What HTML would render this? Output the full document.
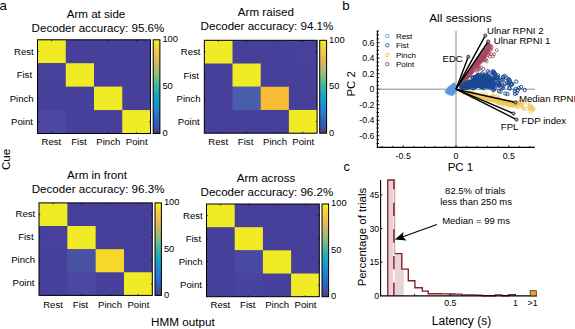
<!DOCTYPE html>
<html><head><meta charset="utf-8"><style>
html,body{margin:0;padding:0;background:#fff;}
svg{display:block;font-family:"Liberation Sans", sans-serif;}
</style></head><body>
<svg width="575" height="329" viewBox="0 0 575 329">
<rect width="575" height="329" fill="#fff"/>
<rect x="37.50" y="39.80" width="113.00" height="93.70" fill="#46409b"/>
<rect x="37.50" y="39.80" width="28.25" height="23.43" fill="#f1eb26"/>
<rect x="37.50" y="63.22" width="28.25" height="23.43" fill="#48419c"/>
<rect x="65.75" y="63.22" width="28.25" height="23.43" fill="#f1eb26"/>
<rect x="94.00" y="86.65" width="28.25" height="23.43" fill="#f1eb26"/>
<rect x="37.50" y="110.08" width="28.25" height="23.43" fill="#4c48a1"/>
<rect x="122.25" y="110.08" width="28.25" height="23.43" fill="#f1eb26"/>
<rect x="37.50" y="39.80" width="113.00" height="93.70" fill="none" stroke="#000" stroke-width="1"/>
<line x1="51.62" y1="39.80" x2="51.62" y2="41.10" stroke="#000" stroke-width="0.8" />
<line x1="51.62" y1="133.50" x2="51.62" y2="132.20" stroke="#000" stroke-width="0.8" />
<line x1="37.50" y1="51.51" x2="38.80" y2="51.51" stroke="#000" stroke-width="0.8" />
<line x1="150.50" y1="51.51" x2="149.20" y2="51.51" stroke="#000" stroke-width="0.8" />
<line x1="79.88" y1="39.80" x2="79.88" y2="41.10" stroke="#000" stroke-width="0.8" />
<line x1="79.88" y1="133.50" x2="79.88" y2="132.20" stroke="#000" stroke-width="0.8" />
<line x1="37.50" y1="74.94" x2="38.80" y2="74.94" stroke="#000" stroke-width="0.8" />
<line x1="150.50" y1="74.94" x2="149.20" y2="74.94" stroke="#000" stroke-width="0.8" />
<line x1="108.12" y1="39.80" x2="108.12" y2="41.10" stroke="#000" stroke-width="0.8" />
<line x1="108.12" y1="133.50" x2="108.12" y2="132.20" stroke="#000" stroke-width="0.8" />
<line x1="37.50" y1="98.36" x2="38.80" y2="98.36" stroke="#000" stroke-width="0.8" />
<line x1="150.50" y1="98.36" x2="149.20" y2="98.36" stroke="#000" stroke-width="0.8" />
<line x1="136.38" y1="39.80" x2="136.38" y2="41.10" stroke="#000" stroke-width="0.8" />
<line x1="136.38" y1="133.50" x2="136.38" y2="132.20" stroke="#000" stroke-width="0.8" />
<line x1="37.50" y1="121.79" x2="38.80" y2="121.79" stroke="#000" stroke-width="0.8" />
<line x1="150.50" y1="121.79" x2="149.20" y2="121.79" stroke="#000" stroke-width="0.8" />
<text x="33.7" y="55.0" font-size="9.6" text-anchor="end" >Rest</text>
<text x="32.1" y="78.4" font-size="9.6" text-anchor="end" >Fist</text>
<text x="33.7" y="101.9" font-size="9.6" text-anchor="end" >Pinch</text>
<text x="32.9" y="125.3" font-size="9.6" text-anchor="end" >Point</text>
<text x="51.4" y="144.9" font-size="9.6" text-anchor="middle" >Rest</text>
<text x="78.9" y="144.9" font-size="9.6" text-anchor="middle" >Fist</text>
<text x="108.3" y="144.9" font-size="9.6" text-anchor="middle" >Pinch</text>
<text x="136.7" y="144.9" font-size="9.6" text-anchor="middle" >Point</text>
<defs><linearGradient id="g37_39" x1="0" y1="0" x2="0" y2="1"><stop offset="0.0000" stop-color="#f5f523"/><stop offset="0.0476" stop-color="#f0e030"/><stop offset="0.0952" stop-color="#f4d03b"/><stop offset="0.1429" stop-color="#f8c247"/><stop offset="0.1905" stop-color="#ebb857"/><stop offset="0.2381" stop-color="#d6b962"/><stop offset="0.2857" stop-color="#bfba6b"/><stop offset="0.3333" stop-color="#a7bc74"/><stop offset="0.3810" stop-color="#8bbc7f"/><stop offset="0.4286" stop-color="#6cba8c"/><stop offset="0.4762" stop-color="#4cb69c"/><stop offset="0.5238" stop-color="#32b1ab"/><stop offset="0.5714" stop-color="#1eaab8"/><stop offset="0.6190" stop-color="#15a3c4"/><stop offset="0.6667" stop-color="#159acc"/><stop offset="0.7143" stop-color="#208ccd"/><stop offset="0.7619" stop-color="#287fcb"/><stop offset="0.8095" stop-color="#2775c9"/><stop offset="0.8571" stop-color="#2369c5"/><stop offset="0.9048" stop-color="#3b5bb4"/><stop offset="0.9524" stop-color="#484c92"/><stop offset="1.0000" stop-color="#443f73"/><stop offset="1" stop-color="#443f73"/></linearGradient></defs>
<rect x="153.2" y="39.8" width="6.70" height="93.70" fill="url(#g37_39)" stroke="#000" stroke-width="1"/>
<text x="162.4" y="42.2" font-size="9.4" text-anchor="start" >100</text>
<text x="162.4" y="89.1" font-size="9.4" text-anchor="start" >50</text>
<text x="162.4" y="135.9" font-size="9.4" text-anchor="start" >0</text>
<text x="96" y="17.9" font-size="11.6" text-anchor="middle" >Arm at side</text>
<text x="98.0" y="32.3" font-size="11.6" text-anchor="middle" >Decoder accuracy: 95.6%</text>
<rect x="204.30" y="40.30" width="112.80" height="92.90" fill="#46409b"/>
<rect x="204.30" y="40.30" width="28.20" height="23.22" fill="#f1eb26"/>
<rect x="288.90" y="40.30" width="28.20" height="23.22" fill="#48419c"/>
<rect x="232.50" y="63.52" width="28.20" height="23.22" fill="#f1eb26"/>
<rect x="232.50" y="86.75" width="28.20" height="23.22" fill="#4a5cac"/>
<rect x="260.70" y="86.75" width="28.20" height="23.22" fill="#f8bc34"/>
<rect x="288.90" y="109.97" width="28.20" height="23.22" fill="#f1eb26"/>
<rect x="204.30" y="40.30" width="112.80" height="92.90" fill="none" stroke="#000" stroke-width="1"/>
<line x1="218.40" y1="40.30" x2="218.40" y2="41.60" stroke="#000" stroke-width="0.8" />
<line x1="218.40" y1="133.20" x2="218.40" y2="131.90" stroke="#000" stroke-width="0.8" />
<line x1="204.30" y1="51.91" x2="205.60" y2="51.91" stroke="#000" stroke-width="0.8" />
<line x1="317.10" y1="51.91" x2="315.80" y2="51.91" stroke="#000" stroke-width="0.8" />
<line x1="246.60" y1="40.30" x2="246.60" y2="41.60" stroke="#000" stroke-width="0.8" />
<line x1="246.60" y1="133.20" x2="246.60" y2="131.90" stroke="#000" stroke-width="0.8" />
<line x1="204.30" y1="75.14" x2="205.60" y2="75.14" stroke="#000" stroke-width="0.8" />
<line x1="317.10" y1="75.14" x2="315.80" y2="75.14" stroke="#000" stroke-width="0.8" />
<line x1="274.80" y1="40.30" x2="274.80" y2="41.60" stroke="#000" stroke-width="0.8" />
<line x1="274.80" y1="133.20" x2="274.80" y2="131.90" stroke="#000" stroke-width="0.8" />
<line x1="204.30" y1="98.36" x2="205.60" y2="98.36" stroke="#000" stroke-width="0.8" />
<line x1="317.10" y1="98.36" x2="315.80" y2="98.36" stroke="#000" stroke-width="0.8" />
<line x1="303.00" y1="40.30" x2="303.00" y2="41.60" stroke="#000" stroke-width="0.8" />
<line x1="303.00" y1="133.20" x2="303.00" y2="131.90" stroke="#000" stroke-width="0.8" />
<line x1="204.30" y1="121.59" x2="205.60" y2="121.59" stroke="#000" stroke-width="0.8" />
<line x1="317.10" y1="121.59" x2="315.80" y2="121.59" stroke="#000" stroke-width="0.8" />
<text x="200.5" y="55.4" font-size="9.6" text-anchor="end" >Rest</text>
<text x="198.9" y="78.6" font-size="9.6" text-anchor="end" >Fist</text>
<text x="200.5" y="101.9" font-size="9.6" text-anchor="end" >Pinch</text>
<text x="199.7" y="125.1" font-size="9.6" text-anchor="end" >Point</text>
<text x="218.2" y="144.6" font-size="9.6" text-anchor="middle" >Rest</text>
<text x="245.6" y="144.6" font-size="9.6" text-anchor="middle" >Fist</text>
<text x="275.0" y="144.6" font-size="9.6" text-anchor="middle" >Pinch</text>
<text x="303.3" y="144.6" font-size="9.6" text-anchor="middle" >Point</text>
<defs><linearGradient id="g204_40" x1="0" y1="0" x2="0" y2="1"><stop offset="0.0000" stop-color="#f5f523"/><stop offset="0.0476" stop-color="#f0e030"/><stop offset="0.0952" stop-color="#f4d03b"/><stop offset="0.1429" stop-color="#f8c247"/><stop offset="0.1905" stop-color="#ebb857"/><stop offset="0.2381" stop-color="#d6b962"/><stop offset="0.2857" stop-color="#bfba6b"/><stop offset="0.3333" stop-color="#a7bc74"/><stop offset="0.3810" stop-color="#8bbc7f"/><stop offset="0.4286" stop-color="#6cba8c"/><stop offset="0.4762" stop-color="#4cb69c"/><stop offset="0.5238" stop-color="#32b1ab"/><stop offset="0.5714" stop-color="#1eaab8"/><stop offset="0.6190" stop-color="#15a3c4"/><stop offset="0.6667" stop-color="#159acc"/><stop offset="0.7143" stop-color="#208ccd"/><stop offset="0.7619" stop-color="#287fcb"/><stop offset="0.8095" stop-color="#2775c9"/><stop offset="0.8571" stop-color="#2369c5"/><stop offset="0.9048" stop-color="#3b5bb4"/><stop offset="0.9524" stop-color="#484c92"/><stop offset="1.0000" stop-color="#443f73"/><stop offset="1" stop-color="#443f73"/></linearGradient></defs>
<rect x="319.7" y="40.3" width="6.90" height="92.90" fill="url(#g204_40)" stroke="#000" stroke-width="1"/>
<text x="329.1" y="42.7" font-size="9.4" text-anchor="start" >100</text>
<text x="329.1" y="89.2" font-size="9.4" text-anchor="start" >50</text>
<text x="329.1" y="135.6" font-size="9.4" text-anchor="start" >0</text>
<text x="265.9" y="15.8" font-size="11.6" text-anchor="middle" >Arm raised</text>
<text x="267.0" y="30.1" font-size="11.6" text-anchor="middle" >Decoder accuracy: 94.1%</text>
<rect x="39.00" y="202.90" width="113.30" height="92.50" fill="#46409b"/>
<rect x="39.00" y="202.90" width="28.33" height="23.12" fill="#f1eb26"/>
<rect x="39.00" y="226.03" width="28.33" height="23.12" fill="#48419c"/>
<rect x="67.33" y="226.03" width="28.33" height="23.12" fill="#f1eb26"/>
<rect x="67.33" y="249.15" width="28.33" height="23.12" fill="#4a52a6"/>
<rect x="95.65" y="249.15" width="28.33" height="23.12" fill="#f5d828"/>
<rect x="67.33" y="272.27" width="28.33" height="23.12" fill="#4a48a0"/>
<rect x="123.98" y="272.27" width="28.33" height="23.12" fill="#f1eb26"/>
<rect x="39.00" y="202.90" width="113.30" height="92.50" fill="none" stroke="#000" stroke-width="1"/>
<line x1="53.16" y1="202.90" x2="53.16" y2="204.20" stroke="#000" stroke-width="0.8" />
<line x1="53.16" y1="295.40" x2="53.16" y2="294.10" stroke="#000" stroke-width="0.8" />
<line x1="39.00" y1="214.46" x2="40.30" y2="214.46" stroke="#000" stroke-width="0.8" />
<line x1="152.30" y1="214.46" x2="151.00" y2="214.46" stroke="#000" stroke-width="0.8" />
<line x1="81.49" y1="202.90" x2="81.49" y2="204.20" stroke="#000" stroke-width="0.8" />
<line x1="81.49" y1="295.40" x2="81.49" y2="294.10" stroke="#000" stroke-width="0.8" />
<line x1="39.00" y1="237.59" x2="40.30" y2="237.59" stroke="#000" stroke-width="0.8" />
<line x1="152.30" y1="237.59" x2="151.00" y2="237.59" stroke="#000" stroke-width="0.8" />
<line x1="109.81" y1="202.90" x2="109.81" y2="204.20" stroke="#000" stroke-width="0.8" />
<line x1="109.81" y1="295.40" x2="109.81" y2="294.10" stroke="#000" stroke-width="0.8" />
<line x1="39.00" y1="260.71" x2="40.30" y2="260.71" stroke="#000" stroke-width="0.8" />
<line x1="152.30" y1="260.71" x2="151.00" y2="260.71" stroke="#000" stroke-width="0.8" />
<line x1="138.14" y1="202.90" x2="138.14" y2="204.20" stroke="#000" stroke-width="0.8" />
<line x1="138.14" y1="295.40" x2="138.14" y2="294.10" stroke="#000" stroke-width="0.8" />
<line x1="39.00" y1="283.84" x2="40.30" y2="283.84" stroke="#000" stroke-width="0.8" />
<line x1="152.30" y1="283.84" x2="151.00" y2="283.84" stroke="#000" stroke-width="0.8" />
<text x="35.2" y="216.6" font-size="9.6" text-anchor="end" >Rest</text>
<text x="33.6" y="239.7" font-size="9.6" text-anchor="end" >Fist</text>
<text x="35.2" y="262.8" font-size="9.6" text-anchor="end" >Pinch</text>
<text x="34.4" y="285.9" font-size="9.6" text-anchor="end" >Point</text>
<text x="53.0" y="307.8" font-size="9.6" text-anchor="middle" >Rest</text>
<text x="80.5" y="307.8" font-size="9.6" text-anchor="middle" >Fist</text>
<text x="110.0" y="307.8" font-size="9.6" text-anchor="middle" >Pinch</text>
<text x="138.4" y="307.8" font-size="9.6" text-anchor="middle" >Point</text>
<defs><linearGradient id="g39_202" x1="0" y1="0" x2="0" y2="1"><stop offset="0.0000" stop-color="#f5f523"/><stop offset="0.0476" stop-color="#f0e030"/><stop offset="0.0952" stop-color="#f4d03b"/><stop offset="0.1429" stop-color="#f8c247"/><stop offset="0.1905" stop-color="#ebb857"/><stop offset="0.2381" stop-color="#d6b962"/><stop offset="0.2857" stop-color="#bfba6b"/><stop offset="0.3333" stop-color="#a7bc74"/><stop offset="0.3810" stop-color="#8bbc7f"/><stop offset="0.4286" stop-color="#6cba8c"/><stop offset="0.4762" stop-color="#4cb69c"/><stop offset="0.5238" stop-color="#32b1ab"/><stop offset="0.5714" stop-color="#1eaab8"/><stop offset="0.6190" stop-color="#15a3c4"/><stop offset="0.6667" stop-color="#159acc"/><stop offset="0.7143" stop-color="#208ccd"/><stop offset="0.7619" stop-color="#287fcb"/><stop offset="0.8095" stop-color="#2775c9"/><stop offset="0.8571" stop-color="#2369c5"/><stop offset="0.9048" stop-color="#3b5bb4"/><stop offset="0.9524" stop-color="#484c92"/><stop offset="1.0000" stop-color="#443f73"/><stop offset="1" stop-color="#443f73"/></linearGradient></defs>
<rect x="155" y="202.9" width="6.40" height="92.50" fill="url(#g39_202)" stroke="#000" stroke-width="1"/>
<text x="163.9" y="205.3" font-size="9.4" text-anchor="start" >100</text>
<text x="163.9" y="251.5" font-size="9.4" text-anchor="start" >50</text>
<text x="163.9" y="297.8" font-size="9.4" text-anchor="start" >0</text>
<text x="97.0" y="179.3" font-size="11.6" text-anchor="middle" >Arm in front</text>
<text x="98.1" y="193.4" font-size="11.6" text-anchor="middle" >Decoder accuracy: 96.3%</text>
<rect x="206.50" y="204.00" width="112.80" height="92.70" fill="#46409b"/>
<rect x="206.50" y="204.00" width="28.20" height="23.17" fill="#f1eb26"/>
<rect x="234.70" y="227.18" width="28.20" height="23.17" fill="#f1eb26"/>
<rect x="234.70" y="250.35" width="28.20" height="23.17" fill="#4a4aa2"/>
<rect x="262.90" y="250.35" width="28.20" height="23.17" fill="#f1eb26"/>
<rect x="234.70" y="273.52" width="28.20" height="23.17" fill="#48439e"/>
<rect x="291.10" y="273.52" width="28.20" height="23.17" fill="#f1eb26"/>
<rect x="206.50" y="204.00" width="112.80" height="92.70" fill="none" stroke="#000" stroke-width="1"/>
<line x1="220.60" y1="204.00" x2="220.60" y2="205.30" stroke="#000" stroke-width="0.8" />
<line x1="220.60" y1="296.70" x2="220.60" y2="295.40" stroke="#000" stroke-width="0.8" />
<line x1="206.50" y1="215.59" x2="207.80" y2="215.59" stroke="#000" stroke-width="0.8" />
<line x1="319.30" y1="215.59" x2="318.00" y2="215.59" stroke="#000" stroke-width="0.8" />
<line x1="248.80" y1="204.00" x2="248.80" y2="205.30" stroke="#000" stroke-width="0.8" />
<line x1="248.80" y1="296.70" x2="248.80" y2="295.40" stroke="#000" stroke-width="0.8" />
<line x1="206.50" y1="238.76" x2="207.80" y2="238.76" stroke="#000" stroke-width="0.8" />
<line x1="319.30" y1="238.76" x2="318.00" y2="238.76" stroke="#000" stroke-width="0.8" />
<line x1="277.00" y1="204.00" x2="277.00" y2="205.30" stroke="#000" stroke-width="0.8" />
<line x1="277.00" y1="296.70" x2="277.00" y2="295.40" stroke="#000" stroke-width="0.8" />
<line x1="206.50" y1="261.94" x2="207.80" y2="261.94" stroke="#000" stroke-width="0.8" />
<line x1="319.30" y1="261.94" x2="318.00" y2="261.94" stroke="#000" stroke-width="0.8" />
<line x1="305.20" y1="204.00" x2="305.20" y2="205.30" stroke="#000" stroke-width="0.8" />
<line x1="305.20" y1="296.70" x2="305.20" y2="295.40" stroke="#000" stroke-width="0.8" />
<line x1="206.50" y1="285.11" x2="207.80" y2="285.11" stroke="#000" stroke-width="0.8" />
<line x1="319.30" y1="285.11" x2="318.00" y2="285.11" stroke="#000" stroke-width="0.8" />
<text x="202.7" y="218.5" font-size="9.6" text-anchor="end" >Rest</text>
<text x="201.1" y="241.7" font-size="9.6" text-anchor="end" >Fist</text>
<text x="202.7" y="264.8" font-size="9.6" text-anchor="end" >Pinch</text>
<text x="201.9" y="288.0" font-size="9.6" text-anchor="end" >Point</text>
<text x="220.4" y="308.1" font-size="9.6" text-anchor="middle" >Rest</text>
<text x="247.8" y="308.1" font-size="9.6" text-anchor="middle" >Fist</text>
<text x="277.2" y="308.1" font-size="9.6" text-anchor="middle" >Pinch</text>
<text x="305.5" y="308.1" font-size="9.6" text-anchor="middle" >Point</text>
<defs><linearGradient id="g206_204" x1="0" y1="0" x2="0" y2="1"><stop offset="0.0000" stop-color="#f5f523"/><stop offset="0.0476" stop-color="#f0e030"/><stop offset="0.0952" stop-color="#f4d03b"/><stop offset="0.1429" stop-color="#f8c247"/><stop offset="0.1905" stop-color="#ebb857"/><stop offset="0.2381" stop-color="#d6b962"/><stop offset="0.2857" stop-color="#bfba6b"/><stop offset="0.3333" stop-color="#a7bc74"/><stop offset="0.3810" stop-color="#8bbc7f"/><stop offset="0.4286" stop-color="#6cba8c"/><stop offset="0.4762" stop-color="#4cb69c"/><stop offset="0.5238" stop-color="#32b1ab"/><stop offset="0.5714" stop-color="#1eaab8"/><stop offset="0.6190" stop-color="#15a3c4"/><stop offset="0.6667" stop-color="#159acc"/><stop offset="0.7143" stop-color="#208ccd"/><stop offset="0.7619" stop-color="#287fcb"/><stop offset="0.8095" stop-color="#2775c9"/><stop offset="0.8571" stop-color="#2369c5"/><stop offset="0.9048" stop-color="#3b5bb4"/><stop offset="0.9524" stop-color="#484c92"/><stop offset="1.0000" stop-color="#443f73"/><stop offset="1" stop-color="#443f73"/></linearGradient></defs>
<rect x="322" y="204.0" width="6.60" height="92.70" fill="url(#g206_204)" stroke="#000" stroke-width="1"/>
<text x="331.1" y="206.4" font-size="9.4" text-anchor="start" >100</text>
<text x="331.1" y="252.8" font-size="9.4" text-anchor="start" >50</text>
<text x="331.1" y="299.1" font-size="9.4" text-anchor="start" >0</text>
<text x="266" y="181.8" font-size="11.6" text-anchor="middle" >Arm across</text>
<text x="266.9" y="195.8" font-size="11.6" text-anchor="middle" >Decoder accuracy: 96.2%</text>
<text x="-0.5" y="9.5" font-size="13.2" text-anchor="start" >a</text>
<text x="342.3" y="9.5" font-size="13.2" text-anchor="start" >b</text>
<text x="343.5" y="170.8" font-size="12.5" text-anchor="start" >c</text>
<text x="0" y="0" font-size="11.6" text-anchor="middle" transform="translate(9.9,159.4) rotate(-90)">Cue</text>
<text x="182.8" y="326.1" font-size="11.7" text-anchor="middle" >HMM output</text>
<line x1="456.00" y1="31.00" x2="456.00" y2="147.40" stroke="#8a8a8a" stroke-width="1" />
<line x1="377.40" y1="89.20" x2="534.80" y2="89.20" stroke="#8a8a8a" stroke-width="1" />
<path d="M453.7,82.8 L456.8,85 L457.2,90.5 L455,93.5 L452.6,95.6 L448,94.6 L444.8,92 L447.5,88 Z" fill="#5c9ad8" stroke="#5c9ad8" stroke-width="0.8" stroke-linejoin="round"/>
<circle cx="450.9" cy="87.9" r="1.3" fill="none" stroke="#5c9ad8" stroke-width="0.8"/>
<circle cx="452.9" cy="87.4" r="1.3" fill="none" stroke="#5c9ad8" stroke-width="0.8"/>
<circle cx="452.2" cy="89.2" r="1.3" fill="none" stroke="#5c9ad8" stroke-width="0.8"/>
<circle cx="449.3" cy="90.0" r="1.3" fill="none" stroke="#5c9ad8" stroke-width="0.8"/>
<circle cx="449.2" cy="89.6" r="1.3" fill="none" stroke="#5c9ad8" stroke-width="0.8"/>
<circle cx="449.4" cy="87.5" r="1.3" fill="none" stroke="#5c9ad8" stroke-width="0.8"/>
<circle cx="451.5" cy="92.0" r="1.3" fill="none" stroke="#5c9ad8" stroke-width="0.8"/>
<circle cx="449.7" cy="88.3" r="1.3" fill="none" stroke="#5c9ad8" stroke-width="0.8"/>
<circle cx="452.8" cy="92.7" r="1.3" fill="none" stroke="#5c9ad8" stroke-width="0.8"/>
<circle cx="452.5" cy="89.4" r="1.3" fill="none" stroke="#5c9ad8" stroke-width="0.8"/>
<circle cx="454.9" cy="87.3" r="1.3" fill="none" stroke="#5c9ad8" stroke-width="0.8"/>
<circle cx="454.2" cy="88.7" r="1.3" fill="none" stroke="#5c9ad8" stroke-width="0.8"/>
<path d="M458,90.3 L515.5,101.8 L520,104.5 L514,107.8 L495,103.2 L470,95.8 L458,91.6 Z" fill="#f1cb55"/>
<circle cx="474.0" cy="94.6" r="1.5" fill="none" stroke="#f0c75a" stroke-width="0.8"/>
<circle cx="509.3" cy="102.6" r="1.5" fill="none" stroke="#f0c75a" stroke-width="0.8"/>
<circle cx="476.5" cy="96.1" r="1.5" fill="none" stroke="#f0c75a" stroke-width="0.8"/>
<circle cx="488.0" cy="98.0" r="1.5" fill="none" stroke="#f0c75a" stroke-width="0.8"/>
<circle cx="497.1" cy="99.2" r="1.5" fill="none" stroke="#f0c75a" stroke-width="0.8"/>
<circle cx="478.2" cy="94.8" r="1.5" fill="none" stroke="#f0c75a" stroke-width="0.8"/>
<circle cx="503.3" cy="101.8" r="1.5" fill="none" stroke="#f0c75a" stroke-width="0.8"/>
<circle cx="498.9" cy="99.7" r="1.5" fill="none" stroke="#f0c75a" stroke-width="0.8"/>
<circle cx="492.3" cy="98.7" r="1.5" fill="none" stroke="#f0c75a" stroke-width="0.8"/>
<circle cx="504.1" cy="104.7" r="1.5" fill="none" stroke="#f0c75a" stroke-width="0.8"/>
<circle cx="480.6" cy="97.0" r="1.5" fill="none" stroke="#f0c75a" stroke-width="0.8"/>
<circle cx="511.8" cy="103.1" r="1.5" fill="none" stroke="#f0c75a" stroke-width="0.8"/>
<circle cx="505.5" cy="102.0" r="1.5" fill="none" stroke="#f0c75a" stroke-width="0.8"/>
<circle cx="472.0" cy="96.8" r="1.5" fill="none" stroke="#f0c75a" stroke-width="0.8"/>
<circle cx="490.5" cy="97.1" r="1.5" fill="none" stroke="#f0c75a" stroke-width="0.8"/>
<circle cx="494.1" cy="99.2" r="1.5" fill="none" stroke="#f0c75a" stroke-width="0.8"/>
<circle cx="465.0" cy="92.8" r="1.5" fill="none" stroke="#f0c75a" stroke-width="0.8"/>
<circle cx="498.3" cy="102.5" r="1.5" fill="none" stroke="#f0c75a" stroke-width="0.8"/>
<circle cx="511.8" cy="103.3" r="1.5" fill="none" stroke="#f0c75a" stroke-width="0.8"/>
<circle cx="499.3" cy="102.6" r="1.5" fill="none" stroke="#f0c75a" stroke-width="0.8"/>
<circle cx="498.6" cy="103.5" r="1.5" fill="none" stroke="#f0c75a" stroke-width="0.8"/>
<circle cx="514.7" cy="103.7" r="1.5" fill="none" stroke="#f0c75a" stroke-width="0.8"/>
<circle cx="493.4" cy="98.1" r="1.5" fill="none" stroke="#f0c75a" stroke-width="0.8"/>
<circle cx="504.3" cy="100.7" r="1.5" fill="none" stroke="#f0c75a" stroke-width="0.8"/>
<circle cx="501.8" cy="104.5" r="1.5" fill="none" stroke="#f0c75a" stroke-width="0.8"/>
<circle cx="483.1" cy="95.7" r="1.5" fill="none" stroke="#f0c75a" stroke-width="0.8"/>
<circle cx="488.8" cy="96.9" r="1.5" fill="none" stroke="#f0c75a" stroke-width="0.8"/>
<circle cx="492.8" cy="97.9" r="1.5" fill="none" stroke="#f0c75a" stroke-width="0.8"/>
<circle cx="475.6" cy="94.5" r="1.5" fill="none" stroke="#f0c75a" stroke-width="0.8"/>
<circle cx="507.2" cy="101.1" r="1.5" fill="none" stroke="#f0c75a" stroke-width="0.8"/>
<circle cx="472.9" cy="93.6" r="1.5" fill="none" stroke="#f0c75a" stroke-width="0.8"/>
<circle cx="511.7" cy="104.6" r="1.5" fill="none" stroke="#f0c75a" stroke-width="0.8"/>
<circle cx="468.9" cy="94.1" r="1.5" fill="none" stroke="#f0c75a" stroke-width="0.8"/>
<circle cx="512.2" cy="102.7" r="1.5" fill="none" stroke="#f0c75a" stroke-width="0.8"/>
<circle cx="509.4" cy="102.5" r="1.5" fill="none" stroke="#f0c75a" stroke-width="0.8"/>
<circle cx="490.4" cy="98.4" r="1.5" fill="none" stroke="#f0c75a" stroke-width="0.8"/>
<circle cx="487.3" cy="100.3" r="1.5" fill="none" stroke="#f0c75a" stroke-width="0.8"/>
<circle cx="474.4" cy="96.2" r="1.5" fill="none" stroke="#f0c75a" stroke-width="0.8"/>
<circle cx="476.2" cy="94.3" r="1.5" fill="none" stroke="#f0c75a" stroke-width="0.8"/>
<circle cx="493.9" cy="99.5" r="1.5" fill="none" stroke="#f0c75a" stroke-width="0.8"/>
<circle cx="499.0" cy="98.8" r="1.5" fill="none" stroke="#f0c75a" stroke-width="0.8"/>
<circle cx="490.5" cy="97.3" r="1.5" fill="none" stroke="#f0c75a" stroke-width="0.8"/>
<circle cx="487.9" cy="101.3" r="1.5" fill="none" stroke="#f0c75a" stroke-width="0.8"/>
<circle cx="503.8" cy="102.6" r="1.5" fill="none" stroke="#f0c75a" stroke-width="0.8"/>
<circle cx="495.5" cy="100.8" r="1.5" fill="none" stroke="#f0c75a" stroke-width="0.8"/>
<circle cx="466.5" cy="93.3" r="1.5" fill="none" stroke="#f0c75a" stroke-width="0.8"/>
<circle cx="512.9" cy="102.8" r="1.5" fill="none" stroke="#f0c75a" stroke-width="0.8"/>
<circle cx="508.5" cy="106.9" r="1.5" fill="none" stroke="#f0c75a" stroke-width="0.8"/>
<circle cx="489.1" cy="97.6" r="1.5" fill="none" stroke="#f0c75a" stroke-width="0.8"/>
<circle cx="501.2" cy="99.9" r="1.5" fill="none" stroke="#f0c75a" stroke-width="0.8"/>
<circle cx="467.3" cy="93.1" r="1.5" fill="none" stroke="#f0c75a" stroke-width="0.8"/>
<circle cx="475.2" cy="94.4" r="1.5" fill="none" stroke="#f0c75a" stroke-width="0.8"/>
<circle cx="486.3" cy="96.2" r="1.5" fill="none" stroke="#f0c75a" stroke-width="0.8"/>
<circle cx="474.5" cy="93.9" r="1.5" fill="none" stroke="#f0c75a" stroke-width="0.8"/>
<circle cx="470.7" cy="93.3" r="1.5" fill="none" stroke="#f0c75a" stroke-width="0.8"/>
<circle cx="511.8" cy="101.8" r="1.5" fill="none" stroke="#f0c75a" stroke-width="0.8"/>
<circle cx="500.2" cy="100.2" r="1.5" fill="none" stroke="#f0c75a" stroke-width="0.8"/>
<circle cx="486.7" cy="97.5" r="1.5" fill="none" stroke="#f0c75a" stroke-width="0.8"/>
<circle cx="487.6" cy="99.4" r="1.5" fill="none" stroke="#f0c75a" stroke-width="0.8"/>
<circle cx="516.7" cy="107.1" r="1.5" fill="none" stroke="#f0c75a" stroke-width="0.8"/>
<circle cx="493.0" cy="98.5" r="1.5" fill="none" stroke="#f0c75a" stroke-width="0.8"/>
<circle cx="470.7" cy="93.2" r="1.5" fill="none" stroke="#f0c75a" stroke-width="0.8"/>
<circle cx="486.4" cy="96.6" r="1.5" fill="none" stroke="#f0c75a" stroke-width="0.8"/>
<circle cx="475.2" cy="96.7" r="1.5" fill="none" stroke="#f0c75a" stroke-width="0.8"/>
<circle cx="463.1" cy="92.6" r="1.5" fill="none" stroke="#f0c75a" stroke-width="0.8"/>
<circle cx="474.1" cy="94.3" r="1.5" fill="none" stroke="#f0c75a" stroke-width="0.8"/>
<circle cx="496.8" cy="101.4" r="1.5" fill="none" stroke="#f0c75a" stroke-width="0.8"/>
<circle cx="516.1" cy="102.9" r="1.5" fill="none" stroke="#f0c75a" stroke-width="0.8"/>
<circle cx="511.3" cy="102.0" r="1.5" fill="none" stroke="#f0c75a" stroke-width="0.8"/>
<circle cx="487.7" cy="98.0" r="1.5" fill="none" stroke="#f0c75a" stroke-width="0.8"/>
<circle cx="468.3" cy="91.1" r="1.5" fill="none" stroke="#f0c75a" stroke-width="0.8"/>
<circle cx="482.2" cy="93.8" r="1.5" fill="none" stroke="#f0c75a" stroke-width="0.8"/>
<circle cx="474.5" cy="93.9" r="1.5" fill="none" stroke="#f0c75a" stroke-width="0.8"/>
<circle cx="492.8" cy="95.3" r="1.5" fill="none" stroke="#f0c75a" stroke-width="0.8"/>
<circle cx="494.4" cy="96.2" r="1.5" fill="none" stroke="#f0c75a" stroke-width="0.8"/>
<circle cx="493.1" cy="96.1" r="1.5" fill="none" stroke="#f0c75a" stroke-width="0.8"/>
<circle cx="470.6" cy="92.3" r="1.5" fill="none" stroke="#f0c75a" stroke-width="0.8"/>
<circle cx="475.5" cy="94.7" r="1.5" fill="none" stroke="#f0c75a" stroke-width="0.8"/>
<circle cx="463.1" cy="91.5" r="1.5" fill="none" stroke="#f0c75a" stroke-width="0.8"/>
<circle cx="471.8" cy="92.0" r="1.5" fill="none" stroke="#f0c75a" stroke-width="0.8"/>
<circle cx="498.3" cy="98.0" r="1.5" fill="none" stroke="#f0c75a" stroke-width="0.8"/>
<circle cx="497.6" cy="96.3" r="1.5" fill="none" stroke="#f0c75a" stroke-width="0.8"/>
<circle cx="498.3" cy="98.3" r="1.5" fill="none" stroke="#f0c75a" stroke-width="0.8"/>
<circle cx="470.4" cy="93.1" r="1.5" fill="none" stroke="#f0c75a" stroke-width="0.8"/>
<circle cx="469.5" cy="93.0" r="1.5" fill="none" stroke="#f0c75a" stroke-width="0.8"/>
<circle cx="485.7" cy="94.1" r="1.5" fill="none" stroke="#f0c75a" stroke-width="0.8"/>
<circle cx="531.1" cy="106.3" r="1.6" fill="none" stroke="#f0c75a" stroke-width="0.8"/>
<circle cx="530.4" cy="108.9" r="1.6" fill="none" stroke="#f0c75a" stroke-width="0.8"/>
<circle cx="517.5" cy="101.5" r="1.6" fill="none" stroke="#f0c75a" stroke-width="0.8"/>
<circle cx="530.1" cy="105.1" r="1.6" fill="none" stroke="#f0c75a" stroke-width="0.8"/>
<circle cx="529.5" cy="107.1" r="1.6" fill="none" stroke="#f0c75a" stroke-width="0.8"/>
<circle cx="530.2" cy="108.7" r="1.6" fill="none" stroke="#f0c75a" stroke-width="0.8"/>
<circle cx="522.0" cy="106.8" r="1.6" fill="none" stroke="#f0c75a" stroke-width="0.8"/>
<circle cx="523.1" cy="101.2" r="1.6" fill="none" stroke="#f0c75a" stroke-width="0.8"/>
<circle cx="523.2" cy="108.5" r="1.6" fill="none" stroke="#f0c75a" stroke-width="0.8"/>
<circle cx="519.1" cy="103.2" r="1.6" fill="none" stroke="#f0c75a" stroke-width="0.8"/>
<circle cx="518.3" cy="106.2" r="1.6" fill="none" stroke="#f0c75a" stroke-width="0.8"/>
<circle cx="530.5" cy="111.8" r="1.6" fill="none" stroke="#f0c75a" stroke-width="0.8"/>
<circle cx="518.6" cy="106.4" r="1.6" fill="none" stroke="#f0c75a" stroke-width="0.8"/>
<circle cx="527.8" cy="103.1" r="1.6" fill="none" stroke="#f0c75a" stroke-width="0.8"/>
<circle cx="522.3" cy="104.5" r="1.6" fill="none" stroke="#f0c75a" stroke-width="0.8"/>
<circle cx="516.3" cy="102.8" r="1.6" fill="none" stroke="#f0c75a" stroke-width="0.8"/>
<circle cx="533.5" cy="108.5" r="1.6" fill="none" stroke="#f0c75a" stroke-width="0.8"/>
<circle cx="532.8" cy="107.8" r="1.6" fill="none" stroke="#f0c75a" stroke-width="0.8"/>
<circle cx="523.8" cy="108.4" r="1.6" fill="none" stroke="#f0c75a" stroke-width="0.8"/>
<circle cx="519.8" cy="102.0" r="1.6" fill="none" stroke="#f0c75a" stroke-width="0.8"/>
<circle cx="520.5" cy="104.4" r="1.6" fill="none" stroke="#f0c75a" stroke-width="0.8"/>
<circle cx="526.6" cy="108.4" r="1.6" fill="none" stroke="#f0c75a" stroke-width="0.8"/>
<circle cx="520.7" cy="104.0" r="1.6" fill="none" stroke="#f0c75a" stroke-width="0.8"/>
<circle cx="532.4" cy="109.8" r="1.6" fill="none" stroke="#f0c75a" stroke-width="0.8"/>
<circle cx="522.4" cy="103.2" r="1.6" fill="none" stroke="#f0c75a" stroke-width="0.8"/>
<circle cx="532.3" cy="109.9" r="1.6" fill="none" stroke="#f0c75a" stroke-width="0.8"/>
<path d="M460,82 L484.5,50 L488,47.5 L490,50.5 L481.5,63 L470.5,77 L464,82.5 Z" fill="#bd6a80"/>
<circle cx="475.9" cy="65.3" r="1.5" fill="none" stroke="#a44560" stroke-width="0.8"/>
<circle cx="478.3" cy="60.6" r="1.5" fill="none" stroke="#a44560" stroke-width="0.8"/>
<circle cx="478.9" cy="61.6" r="1.5" fill="none" stroke="#a44560" stroke-width="0.8"/>
<circle cx="467.3" cy="74.1" r="1.5" fill="none" stroke="#a44560" stroke-width="0.8"/>
<circle cx="460.2" cy="84.1" r="1.5" fill="none" stroke="#a44560" stroke-width="0.8"/>
<circle cx="476.7" cy="62.8" r="1.5" fill="none" stroke="#a44560" stroke-width="0.8"/>
<circle cx="483.9" cy="54.2" r="1.5" fill="none" stroke="#a44560" stroke-width="0.8"/>
<circle cx="477.4" cy="60.8" r="1.5" fill="none" stroke="#a44560" stroke-width="0.8"/>
<circle cx="478.0" cy="59.2" r="1.5" fill="none" stroke="#a44560" stroke-width="0.8"/>
<circle cx="478.8" cy="59.5" r="1.5" fill="none" stroke="#a44560" stroke-width="0.8"/>
<circle cx="469.6" cy="71.4" r="1.5" fill="none" stroke="#a44560" stroke-width="0.8"/>
<circle cx="479.6" cy="62.9" r="1.5" fill="none" stroke="#a44560" stroke-width="0.8"/>
<circle cx="478.3" cy="59.0" r="1.5" fill="none" stroke="#a44560" stroke-width="0.8"/>
<circle cx="478.5" cy="65.8" r="1.5" fill="none" stroke="#a44560" stroke-width="0.8"/>
<circle cx="481.6" cy="58.6" r="1.5" fill="none" stroke="#a44560" stroke-width="0.8"/>
<circle cx="481.4" cy="54.2" r="1.5" fill="none" stroke="#a44560" stroke-width="0.8"/>
<circle cx="477.0" cy="64.2" r="1.5" fill="none" stroke="#a44560" stroke-width="0.8"/>
<circle cx="487.9" cy="46.1" r="1.5" fill="none" stroke="#a44560" stroke-width="0.8"/>
<circle cx="485.1" cy="56.4" r="1.5" fill="none" stroke="#a44560" stroke-width="0.8"/>
<circle cx="471.8" cy="72.2" r="1.5" fill="none" stroke="#a44560" stroke-width="0.8"/>
<circle cx="481.3" cy="61.3" r="1.5" fill="none" stroke="#a44560" stroke-width="0.8"/>
<circle cx="466.4" cy="76.7" r="1.5" fill="none" stroke="#a44560" stroke-width="0.8"/>
<circle cx="465.5" cy="77.2" r="1.5" fill="none" stroke="#a44560" stroke-width="0.8"/>
<circle cx="469.2" cy="71.6" r="1.5" fill="none" stroke="#a44560" stroke-width="0.8"/>
<circle cx="464.1" cy="80.0" r="1.5" fill="none" stroke="#a44560" stroke-width="0.8"/>
<circle cx="489.9" cy="49.7" r="1.5" fill="none" stroke="#a44560" stroke-width="0.8"/>
<circle cx="466.6" cy="75.6" r="1.5" fill="none" stroke="#a44560" stroke-width="0.8"/>
<circle cx="467.4" cy="77.0" r="1.5" fill="none" stroke="#a44560" stroke-width="0.8"/>
<circle cx="487.6" cy="48.8" r="1.5" fill="none" stroke="#a44560" stroke-width="0.8"/>
<circle cx="488.0" cy="45.5" r="1.5" fill="none" stroke="#a44560" stroke-width="0.8"/>
<circle cx="478.4" cy="68.4" r="1.5" fill="none" stroke="#a44560" stroke-width="0.8"/>
<circle cx="485.3" cy="49.7" r="1.5" fill="none" stroke="#a44560" stroke-width="0.8"/>
<circle cx="467.7" cy="75.9" r="1.5" fill="none" stroke="#a44560" stroke-width="0.8"/>
<circle cx="472.7" cy="67.9" r="1.5" fill="none" stroke="#a44560" stroke-width="0.8"/>
<circle cx="468.4" cy="74.0" r="1.5" fill="none" stroke="#a44560" stroke-width="0.8"/>
<circle cx="462.1" cy="83.6" r="1.5" fill="none" stroke="#a44560" stroke-width="0.8"/>
<circle cx="478.1" cy="59.3" r="1.5" fill="none" stroke="#a44560" stroke-width="0.8"/>
<circle cx="471.8" cy="67.7" r="1.5" fill="none" stroke="#a44560" stroke-width="0.8"/>
<circle cx="480.3" cy="57.1" r="1.5" fill="none" stroke="#a44560" stroke-width="0.8"/>
<circle cx="488.4" cy="44.3" r="1.5" fill="none" stroke="#a44560" stroke-width="0.8"/>
<circle cx="484.7" cy="51.5" r="1.5" fill="none" stroke="#a44560" stroke-width="0.8"/>
<circle cx="469.9" cy="70.5" r="1.5" fill="none" stroke="#a44560" stroke-width="0.8"/>
<circle cx="462.0" cy="81.5" r="1.5" fill="none" stroke="#a44560" stroke-width="0.8"/>
<circle cx="466.2" cy="77.1" r="1.5" fill="none" stroke="#a44560" stroke-width="0.8"/>
<circle cx="476.8" cy="65.9" r="1.5" fill="none" stroke="#a44560" stroke-width="0.8"/>
<circle cx="470.9" cy="71.6" r="1.5" fill="none" stroke="#a44560" stroke-width="0.8"/>
<circle cx="467.3" cy="76.5" r="1.5" fill="none" stroke="#a44560" stroke-width="0.8"/>
<circle cx="482.9" cy="54.8" r="1.5" fill="none" stroke="#a44560" stroke-width="0.8"/>
<circle cx="465.3" cy="79.6" r="1.5" fill="none" stroke="#a44560" stroke-width="0.8"/>
<circle cx="475.2" cy="64.5" r="1.5" fill="none" stroke="#a44560" stroke-width="0.8"/>
<circle cx="464.5" cy="80.4" r="1.5" fill="none" stroke="#a44560" stroke-width="0.8"/>
<circle cx="485.2" cy="51.2" r="1.5" fill="none" stroke="#a44560" stroke-width="0.8"/>
<circle cx="463.9" cy="79.0" r="1.5" fill="none" stroke="#a44560" stroke-width="0.8"/>
<circle cx="486.2" cy="48.8" r="1.5" fill="none" stroke="#a44560" stroke-width="0.8"/>
<circle cx="476.3" cy="63.6" r="1.5" fill="none" stroke="#a44560" stroke-width="0.8"/>
<circle cx="489.6" cy="48.0" r="1.5" fill="none" stroke="#a44560" stroke-width="0.8"/>
<circle cx="471.0" cy="71.1" r="1.5" fill="none" stroke="#a44560" stroke-width="0.8"/>
<circle cx="470.1" cy="72.4" r="1.5" fill="none" stroke="#a44560" stroke-width="0.8"/>
<circle cx="464.8" cy="77.7" r="1.5" fill="none" stroke="#a44560" stroke-width="0.8"/>
<circle cx="468.1" cy="73.4" r="1.5" fill="none" stroke="#a44560" stroke-width="0.8"/>
<circle cx="472.0" cy="69.0" r="1.5" fill="none" stroke="#a44560" stroke-width="0.8"/>
<circle cx="472.7" cy="70.9" r="1.5" fill="none" stroke="#a44560" stroke-width="0.8"/>
<circle cx="477.1" cy="61.6" r="1.5" fill="none" stroke="#a44560" stroke-width="0.8"/>
<circle cx="461.6" cy="83.3" r="1.5" fill="none" stroke="#a44560" stroke-width="0.8"/>
<circle cx="471.4" cy="72.5" r="1.5" fill="none" stroke="#a44560" stroke-width="0.8"/>
<circle cx="478.0" cy="59.4" r="1.5" fill="none" stroke="#a44560" stroke-width="0.8"/>
<circle cx="470.2" cy="75.7" r="1.5" fill="none" stroke="#a44560" stroke-width="0.8"/>
<circle cx="464.9" cy="78.0" r="1.5" fill="none" stroke="#a44560" stroke-width="0.8"/>
<circle cx="486.8" cy="51.5" r="1.5" fill="none" stroke="#a44560" stroke-width="0.8"/>
<circle cx="485.9" cy="50.0" r="1.5" fill="none" stroke="#a44560" stroke-width="0.8"/>
<circle cx="475.9" cy="66.9" r="1.5" fill="none" stroke="#a44560" stroke-width="0.8"/>
<circle cx="488.5" cy="44.4" r="1.5" fill="none" stroke="#a44560" stroke-width="0.8"/>
<circle cx="473.2" cy="68.0" r="1.5" fill="none" stroke="#a44560" stroke-width="0.8"/>
<circle cx="482.6" cy="58.0" r="1.5" fill="none" stroke="#a44560" stroke-width="0.8"/>
<circle cx="474.1" cy="64.9" r="1.5" fill="none" stroke="#a44560" stroke-width="0.8"/>
<circle cx="465.7" cy="76.7" r="1.5" fill="none" stroke="#a44560" stroke-width="0.8"/>
<circle cx="463.2" cy="79.6" r="1.5" fill="none" stroke="#a44560" stroke-width="0.8"/>
<circle cx="467.4" cy="75.6" r="1.5" fill="none" stroke="#a44560" stroke-width="0.8"/>
<circle cx="464.8" cy="79.6" r="1.5" fill="none" stroke="#a44560" stroke-width="0.8"/>
<circle cx="484.2" cy="57.3" r="1.5" fill="none" stroke="#a44560" stroke-width="0.8"/>
<circle cx="470.3" cy="69.7" r="1.5" fill="none" stroke="#a44560" stroke-width="0.8"/>
<circle cx="476.7" cy="63.6" r="1.5" fill="none" stroke="#a44560" stroke-width="0.8"/>
<circle cx="467.2" cy="75.8" r="1.5" fill="none" stroke="#a44560" stroke-width="0.8"/>
<circle cx="488.5" cy="45.4" r="1.5" fill="none" stroke="#a44560" stroke-width="0.8"/>
<circle cx="489.9" cy="45.9" r="1.5" fill="none" stroke="#a44560" stroke-width="0.8"/>
<circle cx="488.5" cy="45.2" r="1.5" fill="none" stroke="#a44560" stroke-width="0.8"/>
<circle cx="471.1" cy="68.6" r="1.5" fill="none" stroke="#a44560" stroke-width="0.8"/>
<circle cx="473.2" cy="65.7" r="1.5" fill="none" stroke="#a44560" stroke-width="0.8"/>
<circle cx="476.9" cy="62.9" r="1.5" fill="none" stroke="#a44560" stroke-width="0.8"/>
<circle cx="476.5" cy="60.9" r="1.5" fill="none" stroke="#a44560" stroke-width="0.8"/>
<circle cx="460.2" cy="83.9" r="1.5" fill="none" stroke="#a44560" stroke-width="0.8"/>
<circle cx="474.3" cy="65.4" r="1.5" fill="none" stroke="#a44560" stroke-width="0.8"/>
<circle cx="462.7" cy="81.8" r="1.5" fill="none" stroke="#a44560" stroke-width="0.8"/>
<circle cx="468.9" cy="71.9" r="1.5" fill="none" stroke="#a44560" stroke-width="0.8"/>
<circle cx="481.7" cy="60.1" r="1.5" fill="none" stroke="#a44560" stroke-width="0.8"/>
<circle cx="481.1" cy="55.8" r="1.5" fill="none" stroke="#a44560" stroke-width="0.8"/>
<circle cx="483.4" cy="54.4" r="1.5" fill="none" stroke="#a44560" stroke-width="0.8"/>
<circle cx="472.6" cy="68.6" r="1.5" fill="none" stroke="#a44560" stroke-width="0.8"/>
<circle cx="490.7" cy="45.9" r="1.5" fill="none" stroke="#a44560" stroke-width="0.8"/>
<circle cx="482.7" cy="57.7" r="1.5" fill="none" stroke="#a44560" stroke-width="0.8"/>
<circle cx="463.0" cy="81.8" r="1.5" fill="none" stroke="#a44560" stroke-width="0.8"/>
<circle cx="483.3" cy="59.0" r="1.5" fill="none" stroke="#a44560" stroke-width="0.8"/>
<circle cx="482.8" cy="53.0" r="1.5" fill="none" stroke="#a44560" stroke-width="0.8"/>
<circle cx="477.9" cy="60.8" r="1.5" fill="none" stroke="#a44560" stroke-width="0.8"/>
<circle cx="478.1" cy="62.1" r="1.5" fill="none" stroke="#a44560" stroke-width="0.8"/>
<circle cx="488.2" cy="52.0" r="1.5" fill="none" stroke="#a44560" stroke-width="0.8"/>
<circle cx="480.8" cy="59.6" r="1.5" fill="none" stroke="#a44560" stroke-width="0.8"/>
<circle cx="483.3" cy="55.5" r="1.5" fill="none" stroke="#a44560" stroke-width="0.8"/>
<circle cx="469.3" cy="72.4" r="1.5" fill="none" stroke="#a44560" stroke-width="0.8"/>
<circle cx="472.7" cy="66.6" r="1.5" fill="none" stroke="#a44560" stroke-width="0.8"/>
<circle cx="465.2" cy="78.3" r="1.5" fill="none" stroke="#a44560" stroke-width="0.8"/>
<circle cx="481.9" cy="57.9" r="1.5" fill="none" stroke="#a44560" stroke-width="0.8"/>
<circle cx="480.6" cy="57.1" r="1.5" fill="none" stroke="#a44560" stroke-width="0.8"/>
<circle cx="460.8" cy="84.6" r="1.5" fill="none" stroke="#a44560" stroke-width="0.8"/>
<circle cx="484.0" cy="50.5" r="1.5" fill="none" stroke="#a44560" stroke-width="0.8"/>
<circle cx="479.5" cy="61.3" r="1.5" fill="none" stroke="#a44560" stroke-width="0.8"/>
<circle cx="483.5" cy="57.4" r="1.5" fill="none" stroke="#a44560" stroke-width="0.8"/>
<circle cx="470.2" cy="71.6" r="1.5" fill="none" stroke="#a44560" stroke-width="0.8"/>
<circle cx="463.5" cy="79.5" r="1.5" fill="none" stroke="#a44560" stroke-width="0.8"/>
<circle cx="469.9" cy="74.4" r="1.5" fill="none" stroke="#a44560" stroke-width="0.8"/>
<circle cx="492.8" cy="56.2" r="1.5" fill="none" stroke="#a44560" stroke-width="0.8"/>
<circle cx="485.1" cy="59.8" r="1.5" fill="none" stroke="#a44560" stroke-width="0.8"/>
<circle cx="486.6" cy="61.4" r="1.5" fill="none" stroke="#a44560" stroke-width="0.8"/>
<circle cx="491.2" cy="54.1" r="1.5" fill="none" stroke="#a44560" stroke-width="0.8"/>
<circle cx="486.0" cy="54.9" r="1.5" fill="none" stroke="#a44560" stroke-width="0.8"/>
<circle cx="478.4" cy="67.8" r="1.5" fill="none" stroke="#a44560" stroke-width="0.8"/>
<circle cx="489.0" cy="53.4" r="1.5" fill="none" stroke="#a44560" stroke-width="0.8"/>
<circle cx="484.3" cy="56.5" r="1.5" fill="none" stroke="#a44560" stroke-width="0.8"/>
<circle cx="476.9" cy="69.9" r="1.5" fill="none" stroke="#a44560" stroke-width="0.8"/>
<circle cx="490.0" cy="56.7" r="1.5" fill="none" stroke="#a44560" stroke-width="0.8"/>
<circle cx="487.8" cy="55.0" r="1.5" fill="none" stroke="#a44560" stroke-width="0.8"/>
<circle cx="486.0" cy="59.6" r="1.5" fill="none" stroke="#a44560" stroke-width="0.8"/>
<circle cx="483.1" cy="59.4" r="1.5" fill="none" stroke="#a44560" stroke-width="0.8"/>
<circle cx="491.0" cy="49.3" r="1.5" fill="none" stroke="#a44560" stroke-width="0.8"/>
<circle cx="496.7" cy="50.2" r="1.5" fill="none" stroke="#a44560" stroke-width="0.8"/>
<circle cx="477.3" cy="71.8" r="1.5" fill="none" stroke="#a44560" stroke-width="0.8"/>
<circle cx="494.1" cy="54.2" r="1.5" fill="none" stroke="#a44560" stroke-width="0.8"/>
<circle cx="483.7" cy="60.4" r="1.5" fill="none" stroke="#a44560" stroke-width="0.8"/>
<circle cx="483.4" cy="69.0" r="1.5" fill="none" stroke="#a44560" stroke-width="0.8"/>
<circle cx="481.3" cy="67.5" r="1.5" fill="none" stroke="#a44560" stroke-width="0.8"/>
<circle cx="479.8" cy="69.0" r="1.5" fill="none" stroke="#a44560" stroke-width="0.8"/>
<circle cx="491.7" cy="47.6" r="1.5" fill="none" stroke="#a44560" stroke-width="0.8"/>
<path d="M464,86.5 L468,82.5 L475,78.5 L483,75.5 L490,75 L495,78.5 L497,85 L493,88.5 L480,88.3 L468,88 Z" fill="#2a56a0"/>
<circle cx="473.6" cy="77.3" r="1.7" fill="none" stroke="#1b4792" stroke-width="0.9"/>
<circle cx="472.7" cy="77.8" r="1.7" fill="none" stroke="#1b4792" stroke-width="0.9"/>
<circle cx="486.6" cy="76.0" r="1.7" fill="none" stroke="#1b4792" stroke-width="0.9"/>
<circle cx="473.8" cy="80.4" r="1.7" fill="none" stroke="#1b4792" stroke-width="0.9"/>
<circle cx="488.5" cy="83.1" r="1.7" fill="none" stroke="#1b4792" stroke-width="0.9"/>
<circle cx="491.7" cy="79.4" r="1.7" fill="none" stroke="#1b4792" stroke-width="0.9"/>
<circle cx="470.6" cy="84.6" r="1.7" fill="none" stroke="#1b4792" stroke-width="0.9"/>
<circle cx="472.1" cy="86.0" r="1.7" fill="none" stroke="#1b4792" stroke-width="0.9"/>
<circle cx="502.8" cy="88.0" r="1.7" fill="none" stroke="#1b4792" stroke-width="0.9"/>
<circle cx="509.2" cy="79.7" r="1.7" fill="none" stroke="#1b4792" stroke-width="0.9"/>
<circle cx="467.4" cy="85.8" r="1.7" fill="none" stroke="#1b4792" stroke-width="0.9"/>
<circle cx="466.5" cy="87.5" r="1.7" fill="none" stroke="#1b4792" stroke-width="0.9"/>
<circle cx="509.7" cy="88.5" r="1.7" fill="none" stroke="#1b4792" stroke-width="0.9"/>
<circle cx="485.2" cy="81.6" r="1.7" fill="none" stroke="#1b4792" stroke-width="0.9"/>
<circle cx="500.3" cy="80.2" r="1.7" fill="none" stroke="#1b4792" stroke-width="0.9"/>
<circle cx="496.8" cy="77.8" r="1.7" fill="none" stroke="#1b4792" stroke-width="0.9"/>
<circle cx="469.7" cy="83.1" r="1.7" fill="none" stroke="#1b4792" stroke-width="0.9"/>
<circle cx="462.3" cy="87.7" r="1.7" fill="none" stroke="#1b4792" stroke-width="0.9"/>
<circle cx="498.8" cy="80.6" r="1.7" fill="none" stroke="#1b4792" stroke-width="0.9"/>
<circle cx="465.6" cy="84.0" r="1.7" fill="none" stroke="#1b4792" stroke-width="0.9"/>
<circle cx="505.0" cy="83.6" r="1.7" fill="none" stroke="#1b4792" stroke-width="0.9"/>
<circle cx="461.9" cy="86.8" r="1.7" fill="none" stroke="#1b4792" stroke-width="0.9"/>
<circle cx="489.9" cy="84.8" r="1.7" fill="none" stroke="#1b4792" stroke-width="0.9"/>
<circle cx="478.3" cy="76.2" r="1.7" fill="none" stroke="#1b4792" stroke-width="0.9"/>
<circle cx="516.2" cy="81.6" r="1.7" fill="none" stroke="#1b4792" stroke-width="0.9"/>
<circle cx="470.9" cy="85.2" r="1.7" fill="none" stroke="#1b4792" stroke-width="0.9"/>
<circle cx="486.2" cy="83.1" r="1.7" fill="none" stroke="#1b4792" stroke-width="0.9"/>
<circle cx="475.3" cy="78.6" r="1.7" fill="none" stroke="#1b4792" stroke-width="0.9"/>
<circle cx="469.2" cy="81.8" r="1.7" fill="none" stroke="#1b4792" stroke-width="0.9"/>
<circle cx="485.0" cy="75.3" r="1.7" fill="none" stroke="#1b4792" stroke-width="0.9"/>
<circle cx="461.8" cy="86.1" r="1.7" fill="none" stroke="#1b4792" stroke-width="0.9"/>
<circle cx="476.6" cy="79.0" r="1.7" fill="none" stroke="#1b4792" stroke-width="0.9"/>
<circle cx="482.3" cy="74.8" r="1.7" fill="none" stroke="#1b4792" stroke-width="0.9"/>
<circle cx="473.0" cy="77.7" r="1.7" fill="none" stroke="#1b4792" stroke-width="0.9"/>
<circle cx="482.3" cy="73.3" r="1.7" fill="none" stroke="#1b4792" stroke-width="0.9"/>
<circle cx="468.3" cy="81.8" r="1.7" fill="none" stroke="#1b4792" stroke-width="0.9"/>
<circle cx="464.3" cy="84.7" r="1.7" fill="none" stroke="#1b4792" stroke-width="0.9"/>
<circle cx="491.7" cy="87.4" r="1.7" fill="none" stroke="#1b4792" stroke-width="0.9"/>
<circle cx="518.8" cy="88.0" r="1.7" fill="none" stroke="#1b4792" stroke-width="0.9"/>
<circle cx="484.1" cy="88.2" r="1.7" fill="none" stroke="#1b4792" stroke-width="0.9"/>
<circle cx="476.3" cy="82.1" r="1.7" fill="none" stroke="#1b4792" stroke-width="0.9"/>
<circle cx="481.5" cy="79.4" r="1.7" fill="none" stroke="#1b4792" stroke-width="0.9"/>
<circle cx="498.1" cy="75.3" r="1.7" fill="none" stroke="#1b4792" stroke-width="0.9"/>
<circle cx="509.8" cy="81.6" r="1.7" fill="none" stroke="#1b4792" stroke-width="0.9"/>
<circle cx="465.4" cy="83.9" r="1.7" fill="none" stroke="#1b4792" stroke-width="0.9"/>
<circle cx="467.5" cy="87.3" r="1.7" fill="none" stroke="#1b4792" stroke-width="0.9"/>
<circle cx="466.3" cy="87.5" r="1.7" fill="none" stroke="#1b4792" stroke-width="0.9"/>
<circle cx="497.4" cy="78.2" r="1.7" fill="none" stroke="#1b4792" stroke-width="0.9"/>
<circle cx="515.6" cy="89.0" r="1.7" fill="none" stroke="#1b4792" stroke-width="0.9"/>
<circle cx="511.8" cy="83.9" r="1.7" fill="none" stroke="#1b4792" stroke-width="0.9"/>
<circle cx="485.7" cy="77.9" r="1.7" fill="none" stroke="#1b4792" stroke-width="0.9"/>
<circle cx="463.3" cy="88.0" r="1.7" fill="none" stroke="#1b4792" stroke-width="0.9"/>
<circle cx="483.6" cy="86.3" r="1.7" fill="none" stroke="#1b4792" stroke-width="0.9"/>
<circle cx="504.8" cy="76.0" r="1.7" fill="none" stroke="#1b4792" stroke-width="0.9"/>
<circle cx="492.9" cy="71.3" r="1.7" fill="none" stroke="#1b4792" stroke-width="0.9"/>
<circle cx="461.4" cy="87.7" r="1.7" fill="none" stroke="#1b4792" stroke-width="0.9"/>
<circle cx="488.0" cy="76.2" r="1.7" fill="none" stroke="#1b4792" stroke-width="0.9"/>
<circle cx="482.0" cy="86.8" r="1.7" fill="none" stroke="#1b4792" stroke-width="0.9"/>
<circle cx="486.3" cy="77.0" r="1.7" fill="none" stroke="#1b4792" stroke-width="0.9"/>
<circle cx="480.4" cy="84.7" r="1.7" fill="none" stroke="#1b4792" stroke-width="0.9"/>
<circle cx="469.9" cy="83.9" r="1.7" fill="none" stroke="#1b4792" stroke-width="0.9"/>
<circle cx="466.9" cy="88.0" r="1.7" fill="none" stroke="#1b4792" stroke-width="0.9"/>
<circle cx="463.8" cy="86.1" r="1.7" fill="none" stroke="#1b4792" stroke-width="0.9"/>
<circle cx="508.7" cy="84.5" r="1.7" fill="none" stroke="#1b4792" stroke-width="0.9"/>
<circle cx="463.8" cy="85.4" r="1.7" fill="none" stroke="#1b4792" stroke-width="0.9"/>
<circle cx="524.7" cy="90.0" r="1.7" fill="none" stroke="#1b4792" stroke-width="0.9"/>
<circle cx="486.5" cy="74.7" r="1.7" fill="none" stroke="#1b4792" stroke-width="0.9"/>
<circle cx="480.6" cy="82.2" r="1.7" fill="none" stroke="#1b4792" stroke-width="0.9"/>
<circle cx="492.2" cy="83.4" r="1.7" fill="none" stroke="#1b4792" stroke-width="0.9"/>
<circle cx="478.4" cy="84.7" r="1.7" fill="none" stroke="#1b4792" stroke-width="0.9"/>
<circle cx="507.5" cy="94.1" r="1.7" fill="none" stroke="#1b4792" stroke-width="0.9"/>
<circle cx="468.0" cy="83.6" r="1.7" fill="none" stroke="#1b4792" stroke-width="0.9"/>
<circle cx="492.9" cy="80.7" r="1.7" fill="none" stroke="#1b4792" stroke-width="0.9"/>
<circle cx="509.7" cy="80.7" r="1.7" fill="none" stroke="#1b4792" stroke-width="0.9"/>
<circle cx="475.2" cy="87.1" r="1.7" fill="none" stroke="#1b4792" stroke-width="0.9"/>
<circle cx="478.8" cy="78.2" r="1.7" fill="none" stroke="#1b4792" stroke-width="0.9"/>
<circle cx="485.9" cy="85.0" r="1.7" fill="none" stroke="#1b4792" stroke-width="0.9"/>
<circle cx="464.2" cy="86.6" r="1.7" fill="none" stroke="#1b4792" stroke-width="0.9"/>
<circle cx="485.4" cy="75.7" r="1.7" fill="none" stroke="#1b4792" stroke-width="0.9"/>
<circle cx="467.7" cy="81.8" r="1.7" fill="none" stroke="#1b4792" stroke-width="0.9"/>
<circle cx="474.7" cy="84.9" r="1.7" fill="none" stroke="#1b4792" stroke-width="0.9"/>
<circle cx="497.2" cy="83.1" r="1.7" fill="none" stroke="#1b4792" stroke-width="0.9"/>
<circle cx="462.5" cy="87.0" r="1.7" fill="none" stroke="#1b4792" stroke-width="0.9"/>
<circle cx="475.2" cy="77.1" r="1.7" fill="none" stroke="#1b4792" stroke-width="0.9"/>
<circle cx="494.7" cy="73.7" r="1.7" fill="none" stroke="#1b4792" stroke-width="0.9"/>
<circle cx="482.4" cy="80.2" r="1.7" fill="none" stroke="#1b4792" stroke-width="0.9"/>
<circle cx="461.6" cy="86.8" r="1.7" fill="none" stroke="#1b4792" stroke-width="0.9"/>
<circle cx="515.1" cy="93.8" r="1.7" fill="none" stroke="#1b4792" stroke-width="0.9"/>
<circle cx="511.3" cy="84.9" r="1.7" fill="none" stroke="#1b4792" stroke-width="0.9"/>
<circle cx="468.7" cy="83.3" r="1.7" fill="none" stroke="#1b4792" stroke-width="0.9"/>
<circle cx="471.2" cy="82.6" r="1.7" fill="none" stroke="#1b4792" stroke-width="0.9"/>
<circle cx="473.6" cy="82.6" r="1.7" fill="none" stroke="#1b4792" stroke-width="0.9"/>
<circle cx="521.1" cy="87.0" r="1.7" fill="none" stroke="#1b4792" stroke-width="0.9"/>
<circle cx="475.9" cy="76.4" r="1.7" fill="none" stroke="#1b4792" stroke-width="0.9"/>
<circle cx="477.4" cy="85.9" r="1.7" fill="none" stroke="#1b4792" stroke-width="0.9"/>
<circle cx="478.6" cy="78.9" r="1.7" fill="none" stroke="#1b4792" stroke-width="0.9"/>
<circle cx="485.5" cy="84.9" r="1.7" fill="none" stroke="#1b4792" stroke-width="0.9"/>
<circle cx="473.1" cy="82.4" r="1.7" fill="none" stroke="#1b4792" stroke-width="0.9"/>
<circle cx="489.6" cy="80.5" r="1.7" fill="none" stroke="#1b4792" stroke-width="0.9"/>
<circle cx="483.7" cy="77.8" r="1.7" fill="none" stroke="#1b4792" stroke-width="0.9"/>
<circle cx="496.1" cy="75.9" r="1.7" fill="none" stroke="#1b4792" stroke-width="0.9"/>
<circle cx="478.1" cy="75.2" r="1.7" fill="none" stroke="#1b4792" stroke-width="0.9"/>
<circle cx="477.1" cy="76.2" r="1.7" fill="none" stroke="#1b4792" stroke-width="0.9"/>
<circle cx="464.5" cy="83.5" r="1.7" fill="none" stroke="#1b4792" stroke-width="0.9"/>
<circle cx="493.6" cy="89.4" r="1.7" fill="none" stroke="#1b4792" stroke-width="0.9"/>
<circle cx="489.4" cy="82.2" r="1.7" fill="none" stroke="#1b4792" stroke-width="0.9"/>
<circle cx="498.0" cy="77.3" r="1.7" fill="none" stroke="#1b4792" stroke-width="0.9"/>
<circle cx="478.2" cy="75.5" r="1.7" fill="none" stroke="#1b4792" stroke-width="0.9"/>
<circle cx="475.1" cy="83.0" r="1.7" fill="none" stroke="#1b4792" stroke-width="0.9"/>
<circle cx="493.5" cy="90.3" r="1.7" fill="none" stroke="#1b4792" stroke-width="0.9"/>
<circle cx="501.6" cy="87.4" r="1.7" fill="none" stroke="#1b4792" stroke-width="0.9"/>
<circle cx="477.0" cy="77.8" r="1.7" fill="none" stroke="#1b4792" stroke-width="0.9"/>
<circle cx="493.1" cy="72.6" r="1.7" fill="none" stroke="#1b4792" stroke-width="0.9"/>
<circle cx="497.1" cy="77.5" r="1.7" fill="none" stroke="#1b4792" stroke-width="0.9"/>
<circle cx="499.2" cy="83.7" r="1.7" fill="none" stroke="#1b4792" stroke-width="0.9"/>
<circle cx="463.3" cy="87.8" r="1.7" fill="none" stroke="#1b4792" stroke-width="0.9"/>
<circle cx="489.8" cy="87.7" r="1.7" fill="none" stroke="#1b4792" stroke-width="0.9"/>
<circle cx="471.4" cy="85.3" r="1.7" fill="none" stroke="#1b4792" stroke-width="0.9"/>
<circle cx="465.7" cy="86.1" r="1.7" fill="none" stroke="#1b4792" stroke-width="0.9"/>
<circle cx="493.4" cy="88.5" r="1.7" fill="none" stroke="#1b4792" stroke-width="0.9"/>
<circle cx="474.9" cy="86.8" r="1.7" fill="none" stroke="#1b4792" stroke-width="0.9"/>
<circle cx="465.8" cy="85.7" r="1.7" fill="none" stroke="#1b4792" stroke-width="0.9"/>
<circle cx="472.9" cy="82.1" r="1.7" fill="none" stroke="#1b4792" stroke-width="0.9"/>
<circle cx="474.3" cy="82.5" r="1.7" fill="none" stroke="#1b4792" stroke-width="0.9"/>
<circle cx="493.7" cy="71.8" r="1.7" fill="none" stroke="#1b4792" stroke-width="0.9"/>
<circle cx="493.6" cy="86.8" r="1.7" fill="none" stroke="#1b4792" stroke-width="0.9"/>
<circle cx="485.5" cy="75.0" r="1.7" fill="none" stroke="#1b4792" stroke-width="0.9"/>
<circle cx="467.5" cy="86.6" r="1.7" fill="none" stroke="#1b4792" stroke-width="0.9"/>
<circle cx="479.3" cy="79.6" r="1.7" fill="none" stroke="#1b4792" stroke-width="0.9"/>
<circle cx="498.1" cy="81.8" r="1.7" fill="none" stroke="#1b4792" stroke-width="0.9"/>
<circle cx="461.6" cy="86.0" r="1.7" fill="none" stroke="#1b4792" stroke-width="0.9"/>
<circle cx="480.7" cy="75.0" r="1.7" fill="none" stroke="#1b4792" stroke-width="0.9"/>
<circle cx="500.6" cy="91.6" r="1.7" fill="none" stroke="#1b4792" stroke-width="0.9"/>
<circle cx="482.2" cy="83.9" r="1.7" fill="none" stroke="#1b4792" stroke-width="0.9"/>
<circle cx="478.4" cy="75.6" r="1.7" fill="none" stroke="#1b4792" stroke-width="0.9"/>
<circle cx="470.5" cy="85.1" r="1.7" fill="none" stroke="#1b4792" stroke-width="0.9"/>
<circle cx="473.1" cy="88.2" r="1.7" fill="none" stroke="#1b4792" stroke-width="0.9"/>
<circle cx="471.3" cy="84.3" r="1.7" fill="none" stroke="#1b4792" stroke-width="0.9"/>
<circle cx="498.9" cy="84.7" r="1.7" fill="none" stroke="#1b4792" stroke-width="0.9"/>
<circle cx="491.1" cy="84.9" r="1.7" fill="none" stroke="#1b4792" stroke-width="0.9"/>
<circle cx="474.1" cy="82.8" r="1.7" fill="none" stroke="#1b4792" stroke-width="0.9"/>
<circle cx="463.4" cy="87.3" r="1.7" fill="none" stroke="#1b4792" stroke-width="0.9"/>
<circle cx="480.1" cy="82.8" r="1.7" fill="none" stroke="#1b4792" stroke-width="0.9"/>
<circle cx="514.9" cy="91.1" r="1.7" fill="none" stroke="#1b4792" stroke-width="0.9"/>
<circle cx="489.0" cy="72.6" r="1.7" fill="none" stroke="#1b4792" stroke-width="0.9"/>
<circle cx="475.5" cy="79.8" r="1.7" fill="none" stroke="#1b4792" stroke-width="0.9"/>
<circle cx="488.6" cy="80.6" r="1.7" fill="none" stroke="#1b4792" stroke-width="0.9"/>
<circle cx="483.0" cy="83.6" r="1.7" fill="none" stroke="#1b4792" stroke-width="0.9"/>
<circle cx="476.3" cy="82.3" r="1.7" fill="none" stroke="#1b4792" stroke-width="0.9"/>
<circle cx="502.2" cy="84.8" r="1.7" fill="none" stroke="#1b4792" stroke-width="0.9"/>
<circle cx="476.5" cy="80.7" r="1.7" fill="none" stroke="#1b4792" stroke-width="0.9"/>
<circle cx="486.8" cy="85.0" r="1.7" fill="none" stroke="#1b4792" stroke-width="0.9"/>
<circle cx="473.9" cy="79.1" r="1.7" fill="none" stroke="#1b4792" stroke-width="0.9"/>
<circle cx="491.4" cy="86.5" r="1.7" fill="none" stroke="#1b4792" stroke-width="0.9"/>
<circle cx="475.0" cy="78.8" r="1.7" fill="none" stroke="#1b4792" stroke-width="0.9"/>
<circle cx="469.1" cy="83.7" r="1.7" fill="none" stroke="#1b4792" stroke-width="0.9"/>
<circle cx="517.9" cy="90.0" r="1.7" fill="none" stroke="#1b4792" stroke-width="0.9"/>
<circle cx="474.1" cy="83.2" r="1.7" fill="none" stroke="#1b4792" stroke-width="0.9"/>
<circle cx="481.2" cy="87.2" r="1.7" fill="none" stroke="#1b4792" stroke-width="0.9"/>
<circle cx="466.3" cy="87.6" r="1.7" fill="none" stroke="#1b4792" stroke-width="0.9"/>
<circle cx="491.8" cy="75.9" r="1.7" fill="none" stroke="#1b4792" stroke-width="0.9"/>
<circle cx="495.3" cy="77.9" r="1.7" fill="none" stroke="#1b4792" stroke-width="0.9"/>
<circle cx="477.4" cy="82.3" r="1.7" fill="none" stroke="#1b4792" stroke-width="0.9"/>
<circle cx="497.7" cy="85.2" r="1.7" fill="none" stroke="#1b4792" stroke-width="0.9"/>
<circle cx="508.3" cy="79.2" r="1.7" fill="none" stroke="#1b4792" stroke-width="0.9"/>
<circle cx="482.4" cy="76.8" r="1.7" fill="none" stroke="#1b4792" stroke-width="0.9"/>
<circle cx="476.8" cy="79.5" r="1.7" fill="none" stroke="#1b4792" stroke-width="0.9"/>
<circle cx="494.9" cy="77.9" r="1.7" fill="none" stroke="#1b4792" stroke-width="0.9"/>
<circle cx="493.2" cy="85.8" r="1.7" fill="none" stroke="#1b4792" stroke-width="0.9"/>
<circle cx="485.8" cy="84.3" r="1.7" fill="none" stroke="#1b4792" stroke-width="0.9"/>
<circle cx="466.7" cy="86.8" r="1.7" fill="none" stroke="#1b4792" stroke-width="0.9"/>
<circle cx="497.3" cy="82.9" r="1.7" fill="none" stroke="#1b4792" stroke-width="0.9"/>
<circle cx="465.2" cy="84.5" r="1.7" fill="none" stroke="#1b4792" stroke-width="0.9"/>
<circle cx="463.2" cy="87.1" r="1.7" fill="none" stroke="#1b4792" stroke-width="0.9"/>
<circle cx="512.3" cy="84.0" r="1.7" fill="none" stroke="#1b4792" stroke-width="0.9"/>
<circle cx="468.7" cy="87.0" r="1.7" fill="none" stroke="#1b4792" stroke-width="0.9"/>
<circle cx="494.2" cy="72.9" r="1.7" fill="none" stroke="#1b4792" stroke-width="0.9"/>
<circle cx="505.4" cy="93.5" r="1.7" fill="none" stroke="#1b4792" stroke-width="0.9"/>
<circle cx="487.9" cy="86.8" r="1.7" fill="none" stroke="#1b4792" stroke-width="0.9"/>
<circle cx="493.7" cy="76.4" r="1.7" fill="none" stroke="#1b4792" stroke-width="0.9"/>
<circle cx="501.9" cy="80.2" r="1.7" fill="none" stroke="#1b4792" stroke-width="0.9"/>
<circle cx="470.1" cy="81.5" r="1.7" fill="none" stroke="#1b4792" stroke-width="0.9"/>
<circle cx="489.2" cy="86.4" r="1.7" fill="none" stroke="#1b4792" stroke-width="0.9"/>
<circle cx="468.6" cy="83.7" r="1.7" fill="none" stroke="#1b4792" stroke-width="0.9"/>
<circle cx="503.3" cy="76.8" r="1.7" fill="none" stroke="#1b4792" stroke-width="0.9"/>
<circle cx="516.7" cy="93.1" r="1.7" fill="none" stroke="#1b4792" stroke-width="0.9"/>
<circle cx="483.5" cy="76.8" r="1.7" fill="none" stroke="#1b4792" stroke-width="0.9"/>
<circle cx="500.0" cy="85.0" r="1.7" fill="none" stroke="#1b4792" stroke-width="0.9"/>
<circle cx="471.9" cy="81.3" r="1.7" fill="none" stroke="#1b4792" stroke-width="0.9"/>
<circle cx="473.7" cy="80.3" r="1.7" fill="none" stroke="#1b4792" stroke-width="0.9"/>
<circle cx="468.1" cy="86.7" r="1.7" fill="none" stroke="#1b4792" stroke-width="0.9"/>
<circle cx="499.0" cy="91.2" r="1.7" fill="none" stroke="#1b4792" stroke-width="0.9"/>
<circle cx="482.1" cy="86.9" r="1.7" fill="none" stroke="#1b4792" stroke-width="0.9"/>
<circle cx="472.3" cy="83.5" r="1.7" fill="none" stroke="#1b4792" stroke-width="0.9"/>
<circle cx="487.8" cy="83.0" r="1.7" fill="none" stroke="#1b4792" stroke-width="0.9"/>
<circle cx="481.1" cy="76.4" r="1.7" fill="none" stroke="#1b4792" stroke-width="0.9"/>
<circle cx="506.7" cy="78.1" r="1.7" fill="none" stroke="#1b4792" stroke-width="0.9"/>
<circle cx="473.7" cy="87.4" r="1.7" fill="none" stroke="#1b4792" stroke-width="0.9"/>
<circle cx="495.0" cy="88.4" r="1.7" fill="none" stroke="#1b4792" stroke-width="0.9"/>
<circle cx="506.9" cy="82.9" r="1.7" fill="none" stroke="#1b4792" stroke-width="0.9"/>
<circle cx="479.1" cy="85.5" r="1.7" fill="none" stroke="#1b4792" stroke-width="0.9"/>
<circle cx="498.8" cy="85.7" r="1.7" fill="none" stroke="#1b4792" stroke-width="0.9"/>
<circle cx="470.3" cy="86.8" r="1.7" fill="none" stroke="#1b4792" stroke-width="0.9"/>
<circle cx="487.8" cy="71.2" r="1.7" fill="none" stroke="#1b4792" stroke-width="0.9"/>
<circle cx="503.1" cy="79.4" r="1.7" fill="none" stroke="#1b4792" stroke-width="0.9"/>
<circle cx="474.3" cy="85.2" r="1.7" fill="none" stroke="#1b4792" stroke-width="0.9"/>
<circle cx="509.2" cy="88.1" r="1.7" fill="none" stroke="#1b4792" stroke-width="0.9"/>
<circle cx="510.8" cy="84.3" r="1.7" fill="none" stroke="#1b4792" stroke-width="0.9"/>
<circle cx="477.7" cy="75.4" r="1.7" fill="none" stroke="#1b4792" stroke-width="0.9"/>
<circle cx="503.0" cy="77.3" r="1.7" fill="none" stroke="#1b4792" stroke-width="0.9"/>
<circle cx="465.4" cy="85.0" r="1.7" fill="none" stroke="#1b4792" stroke-width="0.9"/>
<circle cx="471.0" cy="85.9" r="1.7" fill="none" stroke="#1b4792" stroke-width="0.9"/>
<circle cx="485.5" cy="82.6" r="1.7" fill="none" stroke="#1b4792" stroke-width="0.9"/>
<circle cx="508.9" cy="83.2" r="1.7" fill="none" stroke="#1b4792" stroke-width="0.9"/>
<circle cx="486.8" cy="81.3" r="1.7" fill="none" stroke="#1b4792" stroke-width="0.9"/>
<circle cx="475.3" cy="80.9" r="1.7" fill="none" stroke="#1b4792" stroke-width="0.9"/>
<circle cx="491.1" cy="80.2" r="1.7" fill="none" stroke="#1b4792" stroke-width="0.9"/>
<circle cx="481.9" cy="80.0" r="1.7" fill="none" stroke="#1b4792" stroke-width="0.9"/>
<circle cx="482.5" cy="87.4" r="1.7" fill="none" stroke="#1b4792" stroke-width="0.9"/>
<circle cx="503.5" cy="86.2" r="1.7" fill="none" stroke="#1b4792" stroke-width="0.9"/>
<circle cx="494.6" cy="73.4" r="1.7" fill="none" stroke="#1b4792" stroke-width="0.9"/>
<circle cx="466.0" cy="84.8" r="1.7" fill="none" stroke="#1b4792" stroke-width="0.9"/>
<circle cx="468.2" cy="85.1" r="1.7" fill="none" stroke="#1b4792" stroke-width="0.9"/>
<circle cx="466.2" cy="83.9" r="1.7" fill="none" stroke="#1b4792" stroke-width="0.9"/>
<circle cx="468.6" cy="86.7" r="1.7" fill="none" stroke="#1b4792" stroke-width="0.9"/>
<circle cx="469.0" cy="87.4" r="1.7" fill="none" stroke="#1b4792" stroke-width="0.9"/>
<circle cx="483.1" cy="76.1" r="1.7" fill="none" stroke="#1b4792" stroke-width="0.9"/>
<circle cx="473.3" cy="88.0" r="1.7" fill="none" stroke="#1b4792" stroke-width="0.9"/>
<circle cx="493.1" cy="79.3" r="1.7" fill="none" stroke="#1b4792" stroke-width="0.9"/>
<circle cx="469.5" cy="85.2" r="1.7" fill="none" stroke="#1b4792" stroke-width="0.9"/>
<line x1="456.00" y1="89.20" x2="468.30" y2="56.80" stroke="#000" stroke-width="1.4" />
<line x1="456.00" y1="89.20" x2="485.30" y2="35.60" stroke="#000" stroke-width="1.4" />
<line x1="456.00" y1="89.20" x2="488.20" y2="41.50" stroke="#000" stroke-width="1.4" />
<line x1="456.00" y1="89.20" x2="515.50" y2="102.50" stroke="#000" stroke-width="1.4" />
<line x1="456.00" y1="89.20" x2="513.50" y2="113.50" stroke="#000" stroke-width="1.4" />
<line x1="456.00" y1="89.20" x2="516.50" y2="119.60" stroke="#000" stroke-width="1.4" />
<circle cx="468.3" cy="56.8" r="1.6" fill="#9a9a9a" stroke="#222" stroke-width="0.8"/>
<circle cx="485.3" cy="35.6" r="1.6" fill="#9a9a9a" stroke="#222" stroke-width="0.8"/>
<circle cx="488.2" cy="41.5" r="1.6" fill="#9a9a9a" stroke="#222" stroke-width="0.8"/>
<circle cx="515.5" cy="102.5" r="1.6" fill="#9a9a9a" stroke="#222" stroke-width="0.8"/>
<circle cx="513.5" cy="113.5" r="1.6" fill="#9a9a9a" stroke="#222" stroke-width="0.8"/>
<circle cx="516.5" cy="119.6" r="1.6" fill="#9a9a9a" stroke="#222" stroke-width="0.8"/>
<text x="442.5" y="61.6" font-size="9.6" text-anchor="start" >EDC</text>
<text x="487" y="33.5" font-size="9.6" text-anchor="start" >Ulnar RPNI 2</text>
<text x="493.8" y="43.6" font-size="9.6" text-anchor="start" >Ulnar RPNI 1</text>
<text x="519" y="101.6" font-size="9.6" text-anchor="start" >Median RPNI</text>
<text x="521.5" y="123.5" font-size="9.6" text-anchor="start" >FDP index</text>
<text x="500.8" y="129.6" font-size="9.6" text-anchor="start" >FPL</text>
<line x1="377.40" y1="31.00" x2="377.40" y2="147.90" stroke="#000" stroke-width="1.1" />
<line x1="376.90" y1="147.40" x2="534.80" y2="147.40" stroke="#000" stroke-width="1.1" />
<line x1="376.60" y1="143.52" x2="379.00" y2="143.52" stroke="#000" stroke-width="0.9" />
<line x1="376.60" y1="139.64" x2="379.00" y2="139.64" stroke="#000" stroke-width="0.9" />
<line x1="376.60" y1="135.76" x2="379.60" y2="135.76" stroke="#000" stroke-width="0.9" />
<line x1="376.60" y1="131.88" x2="379.00" y2="131.88" stroke="#000" stroke-width="0.9" />
<line x1="376.60" y1="128.00" x2="379.00" y2="128.00" stroke="#000" stroke-width="0.9" />
<line x1="376.60" y1="124.12" x2="379.00" y2="124.12" stroke="#000" stroke-width="0.9" />
<line x1="376.60" y1="120.24" x2="379.60" y2="120.24" stroke="#000" stroke-width="0.9" />
<line x1="376.60" y1="116.36" x2="379.00" y2="116.36" stroke="#000" stroke-width="0.9" />
<line x1="376.60" y1="112.48" x2="379.00" y2="112.48" stroke="#000" stroke-width="0.9" />
<line x1="376.60" y1="108.60" x2="379.00" y2="108.60" stroke="#000" stroke-width="0.9" />
<line x1="376.60" y1="104.72" x2="379.60" y2="104.72" stroke="#000" stroke-width="0.9" />
<line x1="376.60" y1="100.84" x2="379.00" y2="100.84" stroke="#000" stroke-width="0.9" />
<line x1="376.60" y1="96.96" x2="379.00" y2="96.96" stroke="#000" stroke-width="0.9" />
<line x1="376.60" y1="93.08" x2="379.00" y2="93.08" stroke="#000" stroke-width="0.9" />
<line x1="376.60" y1="89.20" x2="379.60" y2="89.20" stroke="#000" stroke-width="0.9" />
<line x1="376.60" y1="85.32" x2="379.00" y2="85.32" stroke="#000" stroke-width="0.9" />
<line x1="376.60" y1="81.44" x2="379.00" y2="81.44" stroke="#000" stroke-width="0.9" />
<line x1="376.60" y1="77.56" x2="379.00" y2="77.56" stroke="#000" stroke-width="0.9" />
<line x1="376.60" y1="73.68" x2="379.60" y2="73.68" stroke="#000" stroke-width="0.9" />
<line x1="376.60" y1="69.80" x2="379.00" y2="69.80" stroke="#000" stroke-width="0.9" />
<line x1="376.60" y1="65.92" x2="379.00" y2="65.92" stroke="#000" stroke-width="0.9" />
<line x1="376.60" y1="62.04" x2="379.00" y2="62.04" stroke="#000" stroke-width="0.9" />
<line x1="376.60" y1="58.16" x2="379.60" y2="58.16" stroke="#000" stroke-width="0.9" />
<line x1="376.60" y1="54.28" x2="379.00" y2="54.28" stroke="#000" stroke-width="0.9" />
<line x1="376.60" y1="50.40" x2="379.00" y2="50.40" stroke="#000" stroke-width="0.9" />
<line x1="376.60" y1="46.52" x2="379.00" y2="46.52" stroke="#000" stroke-width="0.9" />
<line x1="376.60" y1="42.64" x2="379.60" y2="42.64" stroke="#000" stroke-width="0.9" />
<line x1="376.60" y1="38.76" x2="379.00" y2="38.76" stroke="#000" stroke-width="0.9" />
<line x1="376.60" y1="34.88" x2="379.00" y2="34.88" stroke="#000" stroke-width="0.9" />
<line x1="376.60" y1="31.00" x2="379.00" y2="31.00" stroke="#000" stroke-width="0.9" />
<line x1="382.15" y1="147.40" x2="382.15" y2="145.90" stroke="#000" stroke-width="0.8" />
<line x1="392.70" y1="147.40" x2="392.70" y2="145.90" stroke="#000" stroke-width="0.8" />
<line x1="403.25" y1="147.40" x2="403.25" y2="145.20" stroke="#000" stroke-width="0.8" />
<line x1="413.80" y1="147.40" x2="413.80" y2="145.90" stroke="#000" stroke-width="0.8" />
<line x1="424.35" y1="147.40" x2="424.35" y2="145.90" stroke="#000" stroke-width="0.8" />
<line x1="434.90" y1="147.40" x2="434.90" y2="145.90" stroke="#000" stroke-width="0.8" />
<line x1="445.45" y1="147.40" x2="445.45" y2="145.90" stroke="#000" stroke-width="0.8" />
<line x1="456.00" y1="147.40" x2="456.00" y2="145.20" stroke="#000" stroke-width="0.8" />
<line x1="466.55" y1="147.40" x2="466.55" y2="145.90" stroke="#000" stroke-width="0.8" />
<line x1="477.10" y1="147.40" x2="477.10" y2="145.90" stroke="#000" stroke-width="0.8" />
<line x1="487.65" y1="147.40" x2="487.65" y2="145.90" stroke="#000" stroke-width="0.8" />
<line x1="498.20" y1="147.40" x2="498.20" y2="145.90" stroke="#000" stroke-width="0.8" />
<line x1="508.75" y1="147.40" x2="508.75" y2="145.20" stroke="#000" stroke-width="0.8" />
<line x1="519.30" y1="147.40" x2="519.30" y2="145.90" stroke="#000" stroke-width="0.8" />
<line x1="529.85" y1="147.40" x2="529.85" y2="145.90" stroke="#000" stroke-width="0.8" />
<text x="374.5" y="45.6" font-size="8.8" text-anchor="end" >0.6</text>
<text x="374.5" y="61.2" font-size="8.8" text-anchor="end" >0.4</text>
<text x="374.5" y="76.7" font-size="8.8" text-anchor="end" >0.2</text>
<text x="374.5" y="92.2" font-size="8.8" text-anchor="end" >0</text>
<text x="374.5" y="107.7" font-size="8.8" text-anchor="end" >-0.2</text>
<text x="374.5" y="123.2" font-size="8.8" text-anchor="end" >-0.4</text>
<text x="374.5" y="138.8" font-size="8.8" text-anchor="end" >-0.6</text>
<text x="403.2" y="158.8" font-size="8.8" text-anchor="middle" >-0.5</text>
<text x="456.0" y="158.8" font-size="8.8" text-anchor="middle" >0</text>
<text x="508.8" y="158.8" font-size="8.8" text-anchor="middle" >0.5</text>
<text x="460.5" y="171" font-size="11.5" text-anchor="middle" >PC 1</text>
<text x="0" y="0" font-size="11.5" text-anchor="middle" transform="translate(355.2,83.8) rotate(-90)">PC 2</text>
<text x="460.4" y="21.8" font-size="11.8" text-anchor="middle" >All sessions</text>
<circle cx="387.3" cy="35.9" r="1.7" fill="none" stroke="#6aa3dc" stroke-width="1.0"/>
<text x="395.9" y="38.8" font-size="8.0" text-anchor="start" >Rest</text>
<circle cx="387.3" cy="45.3" r="1.7" fill="none" stroke="#3e62a8" stroke-width="1.0"/>
<text x="395.9" y="48.2" font-size="8.0" text-anchor="start" >Fist</text>
<circle cx="387.3" cy="54.9" r="1.7" fill="none" stroke="#f0c860" stroke-width="1.0"/>
<text x="395.9" y="57.8" font-size="8.0" text-anchor="start" >Pinch</text>
<circle cx="387.3" cy="64.1" r="1.7" fill="none" stroke="#b05068" stroke-width="1.0"/>
<text x="395.9" y="67.0" font-size="8.0" text-anchor="start" >Point</text>
<path d="M388.4,295.8 L388.4,180.8 L394.4,180.8 L394.4,253.6 L401.8,253.6 L401.8,269.1 L403.8,269.1 L403.8,295.8 Z" fill="#e9d3d7"/>
<path d="M387.8,295.8 L387.8,180.0 L394.4,180.0 L394.4,253.6 L401.8,253.6 L401.8,269.1 L408.3,269.1 L408.3,280.8 L414.9,280.8 L414.9,287.7 L422.3,287.7 L422.3,291.1 L428.2,291.1 L428.2,293.8 L434.9,293.8 L434.9,293.8 L441.6,293.8 L441.6,293.9 L448.3,293.9 L448.3,294.0 L455.0,294.0 L455.0,294.1 L461.7,294.1 L461.7,294.9 L468.4,294.9 L468.4,294.9 L475.1,294.9 L475.1,295.1 L481.8,295.1 L481.8,295.8 L488.5,295.8 L488.5,295.7 L495.2,295.7 L495.2,294.9 L501.9,294.9 L501.9,295.8 L508.6,295.8 L508.6,294.8 L515.3,294.8 L515.3,295.8" fill="none" stroke="#85202f" stroke-width="1.4" stroke-linejoin="miter"/>
<line x1="393.90" y1="180.01" x2="393.90" y2="295.80" stroke="#fff" stroke-width="1.4" />
<line x1="393.90" y1="295.80" x2="393.90" y2="180.01" stroke="#85202f" stroke-width="1.5" stroke-dasharray="13.3 13.3"/>
<line x1="380.60" y1="180.00" x2="380.60" y2="296.30" stroke="#000" stroke-width="1.1" />
<line x1="380.10" y1="295.80" x2="537.00" y2="295.80" stroke="#000" stroke-width="1.2" />
<line x1="380.60" y1="262.14" x2="382.60" y2="262.14" stroke="#000" stroke-width="0.8" />
<line x1="380.60" y1="228.48" x2="382.60" y2="228.48" stroke="#000" stroke-width="0.8" />
<line x1="380.60" y1="194.82" x2="382.60" y2="194.82" stroke="#000" stroke-width="0.8" />
<line x1="414.50" y1="295.80" x2="414.50" y2="293.80" stroke="#000" stroke-width="0.8" />
<line x1="450.30" y1="295.80" x2="450.30" y2="293.80" stroke="#000" stroke-width="0.8" />
<line x1="515.40" y1="295.80" x2="515.40" y2="293.80" stroke="#000" stroke-width="0.8" />
<text x="379.2" y="298.9" font-size="8.8" text-anchor="end" >0</text>
<text x="379.2" y="265.2" font-size="8.8" text-anchor="end" >15</text>
<text x="379.2" y="231.6" font-size="8.8" text-anchor="end" >30</text>
<text x="379.2" y="197.9" font-size="8.8" text-anchor="end" >45</text>
<text x="450.3" y="306.2" font-size="8.8" text-anchor="middle" >0.5</text>
<text x="515.4" y="306.2" font-size="8.8" text-anchor="middle" >1</text>
<text x="532.6" y="306.2" font-size="8.8" text-anchor="middle" >&gt;1</text>
<rect x="530.2" y="290.7" width="6.1" height="5.1" fill="#f5a020" stroke="#333" stroke-width="0.8"/>
<line x1="436.90" y1="224.40" x2="400.00" y2="237.80" stroke="#000" stroke-width="1.1" />
<path d="M394.8,239.6 L403.5,231.9 L402.8,236.7 L406.6,240.4 Z" fill="#000"/>
<text x="475.2" y="194.1" font-size="9.5" text-anchor="middle" >82.5% of trials</text>
<text x="476.1" y="205.4" font-size="9.5" text-anchor="middle" >less than 250 ms</text>
<text x="476.1" y="224.4" font-size="9.5" text-anchor="middle" >Median = 99 ms</text>
<text x="461.5" y="325.1" font-size="12" text-anchor="middle" >Latency (s)</text>
<text x="0" y="0" font-size="11.45" text-anchor="middle" transform="translate(366,237.1) rotate(-90)">Percentage of trials</text>
</svg></body></html>
